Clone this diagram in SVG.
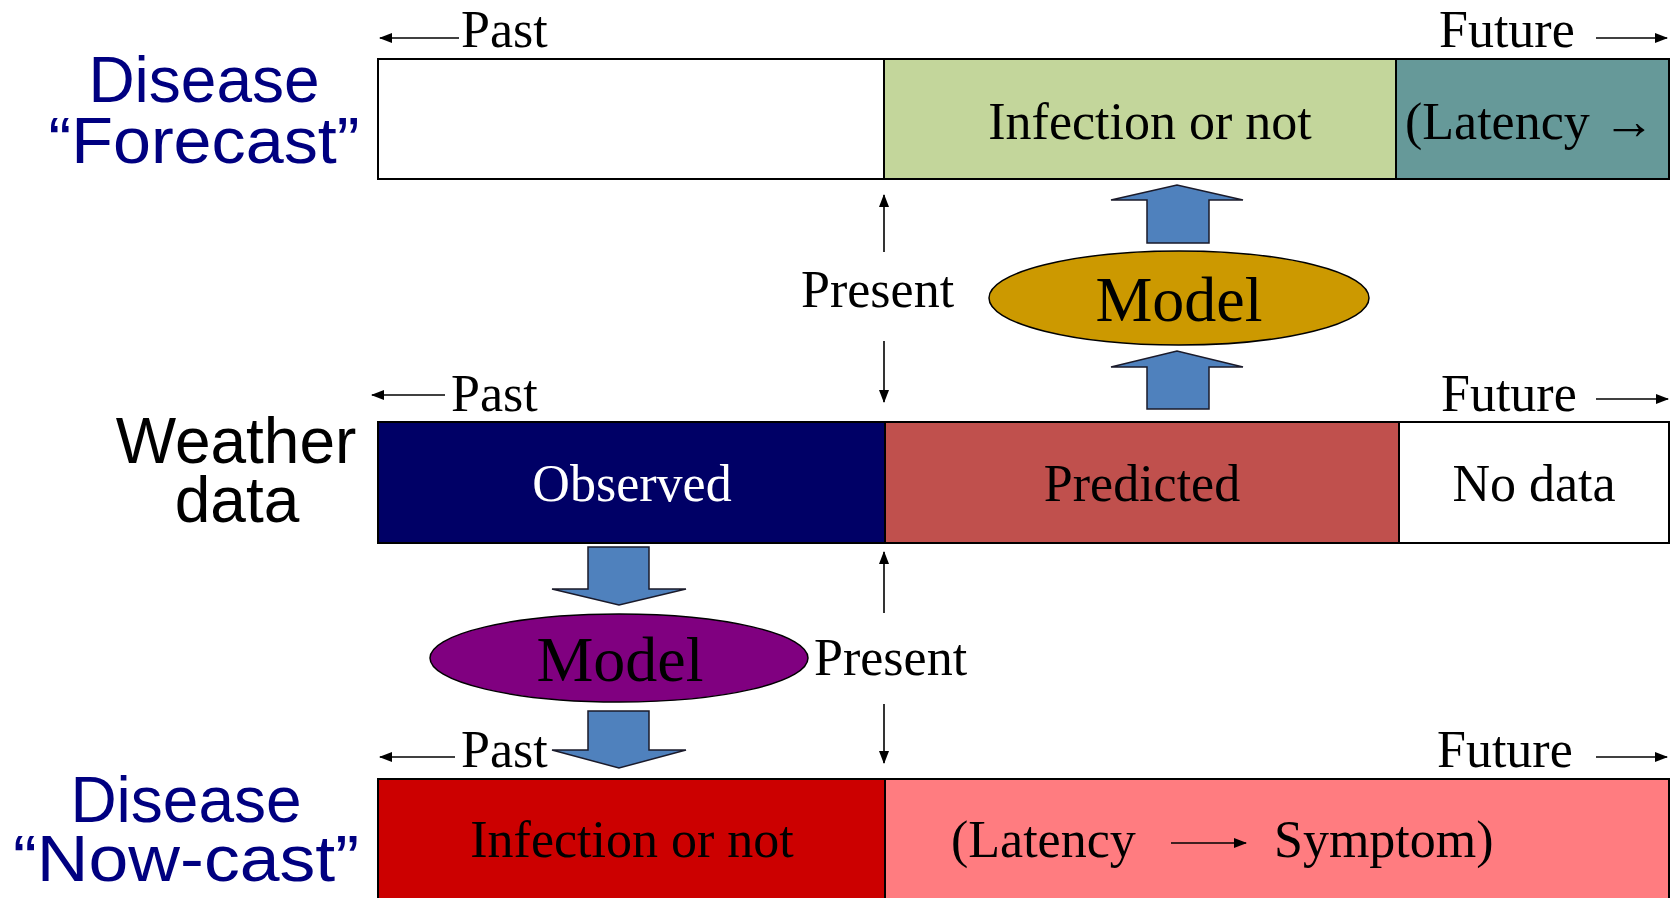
<svg xmlns="http://www.w3.org/2000/svg" width="1680" height="898" viewBox="0 0 1680 898">
<defs>
<marker id="ah" markerUnits="userSpaceOnUse" markerWidth="13" markerHeight="10" refX="12" refY="5" orient="auto">
<path d="M0,0 L13,5 L0,10 z" fill="#000"/>
</marker>
<style>
.serif{font-family:"Liberation Serif","Times New Roman",serif;font-size:52px;fill:#000}
.model{font-family:"Liberation Serif","Times New Roman",serif;font-size:64px;fill:#000;text-anchor:middle}
.sans{font-family:"Liberation Sans",Arial,sans-serif;font-size:64px;text-anchor:middle}
.navy{fill:#000080}
.box{stroke:#000;stroke-width:2}
.thin{stroke:#000;stroke-width:1.6;fill:none;marker-end:url(#ah)}
.blk{fill:#4F81BD;stroke:#1a1a2a;stroke-width:1.5}
.mid{text-anchor:middle}
</style>
</defs>
<rect width="1680" height="898" fill="#fff"/>

<g id="label-forecast">
<text class="sans navy"><tspan x="204" y="102">Disease</tspan><tspan x="204" y="163" textLength="311" lengthAdjust="spacingAndGlyphs">“Forecast”</tspan></text>
</g>
<g id="label-weather">
<text class="sans" fill="#000"><tspan x="236" y="463">Weather</tspan><tspan x="237" y="522">data</tspan></text>
</g>
<g id="label-nowcast">
<text class="sans navy"><tspan x="186" y="822">Disease</tspan><tspan x="186" y="881" textLength="346" lengthAdjust="spacingAndGlyphs">“Now-cast”</tspan></text>
</g>

<g id="row-forecast">
<rect class="box" x="378" y="59" width="506" height="120" fill="#fff"/>
<rect class="box" x="884" y="59" width="512" height="120" fill="#C3D69B"/>
<rect class="box" x="1396" y="59" width="273" height="120" fill="#669999"/>
<text class="serif mid" x="1150" y="139">Infection or not</text>
<text class="serif" x="1405" y="139">(Latency →</text>
</g>

<g id="row-weather">
<rect class="box" x="378" y="422" width="507" height="121" fill="#000066"/>
<rect class="box" x="885" y="422" width="514" height="121" fill="#C0504D"/>
<rect class="box" x="1399" y="422" width="270" height="121" fill="#fff"/>
<text class="serif mid" x="632" y="501" style="fill:#fff">Observed</text>
<text class="serif mid" x="1142" y="501">Predicted</text>
<text class="serif mid" x="1534" y="501">No data</text>
</g>

<g id="row-nowcast">
<rect class="box" x="378" y="779" width="507" height="125" fill="#CC0000"/>
<rect class="box" x="885" y="779" width="784" height="125" fill="#FF7C80"/>
<text class="serif mid" x="632" y="857">Infection or not</text>
<text class="serif" x="951" y="857">(Latency</text>
<text class="serif" x="1274" y="857">Symptom)</text>
</g>

<g id="model-forecast">
<ellipse cx="1179" cy="298" rx="190" ry="47" fill="#CC9900" stroke="#000" stroke-width="1.5"/>
<text class="model" x="1179" y="321">Model</text>
</g>
<g id="model-nowcast">
<ellipse cx="619" cy="658" rx="189" ry="44" fill="#800080" stroke="#000" stroke-width="1.5"/>
<text class="model" x="620" y="681">Model</text>
</g>

<g id="time-labels">
<text class="serif" x="461" y="47">Past</text>
<text class="serif" x="1439" y="47">Future</text>
<text class="serif" x="451" y="411">Past</text>
<text class="serif" x="1441" y="411">Future</text>
<text class="serif" x="461" y="767">Past</text>
<text class="serif" x="1437" y="767">Future</text>
<text class="serif" x="801" y="307">Present</text>
<text class="serif" x="814" y="675">Present</text>
</g>

<g id="connectors">
<line class="thin" x1="459" y1="38" x2="380" y2="38"/>
<line class="thin" x1="1596" y1="38" x2="1667" y2="38"/>
<line class="thin" x1="445" y1="395" x2="372" y2="395"/>
<line class="thin" x1="1596" y1="399" x2="1668" y2="399"/>
<line class="thin" x1="455" y1="757" x2="380" y2="757"/>
<line class="thin" x1="1596" y1="757" x2="1667" y2="757"/>
<line class="thin" x1="884" y1="252" x2="884" y2="195"/>
<line class="thin" x1="884" y1="341" x2="884" y2="402"/>
<line class="thin" x1="884" y1="613" x2="884" y2="552"/>
<line class="thin" x1="884" y1="704" x2="884" y2="763"/>
<line class="thin" x1="1171" y1="843" x2="1246" y2="843"/>
<polygon class="blk" points="1147,243 1147,200 1111,200 1177,185 1243,200 1209,200 1209,243"/>
<polygon class="blk" points="1147,409 1147,367 1111,367 1177,351 1243,367 1209,367 1209,409"/>
<polygon class="blk" points="588,547 649,547 649,589 686,589 619,605 552,589 588,589"/>
<polygon class="blk" points="588,711 649,711 649,750 686,750 619,768 552,750 588,750"/>
</g>
</svg>
